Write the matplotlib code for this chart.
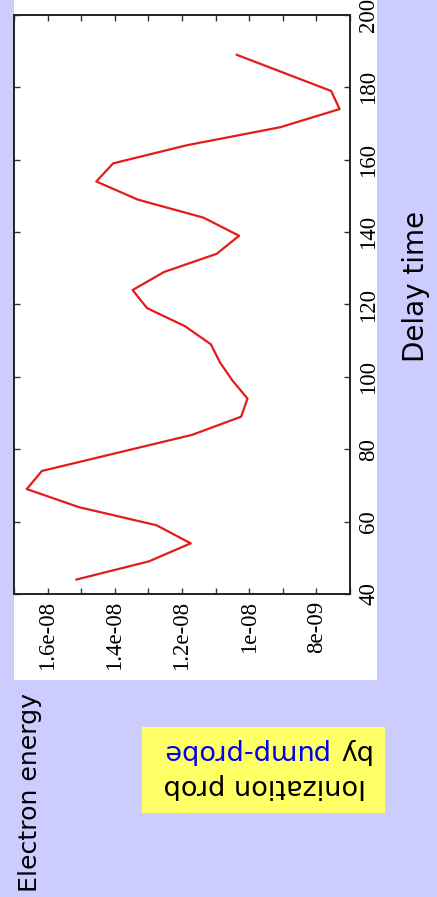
import numpy as np
import matplotlib
matplotlib.use('Agg')
import matplotlib.pyplot as plt
from matplotlib.patches import Rectangle

# Delay time and ionization probability
delay = [44, 49, 54, 59, 64, 69, 74, 84, 89, 94, 99, 104, 109, 114, 119,
         124, 129, 134, 139, 144, 149, 154, 159, 164, 169, 174, 179, 189]
prob = [1.514e-08, 1.299e-08, 1.174e-08, 1.276e-08, 1.507e-08, 1.662e-08,
        1.617e-08, 1.169e-08, 1.024e-08, 1.005e-08, 1.050e-08, 1.087e-08,
        1.114e-08, 1.191e-08, 1.304e-08, 1.347e-08, 1.253e-08, 1.097e-08,
        1.030e-08, 1.136e-08, 1.332e-08, 1.455e-08, 1.405e-08, 1.186e-08,
        0.907e-08, 0.731e-08, 0.756e-08, 1.037e-08]

prob_ticks = [1.6e-08, 1.4e-08, 1.2e-08, 1e-08, 8e-09]
prob_labels = ['1.6e-08', '1.4e-08', '1.2e-08', '1e-08', '8e-09']
delay_ticks = [40, 60, 80, 100, 120, 140, 160, 180, 200]

W, H = 437, 897
bg = '#ccccff'

fig = plt.figure(figsize=(W / 100, H / 100), dpi=100, facecolor=bg)

# white slide area behind the plot
fig.add_artist(Rectangle((14 / W, 1 - 680 / H), (377 - 14) / W, 680 / H,
                         transform=fig.transFigure, facecolor='white',
                         edgecolor='none', zorder=0))

ax = fig.add_axes([14 / W, 1 - 594 / H, (350 - 14) / W, (594 - 15) / H])
ax.plot(prob, delay, color='#e31b1b', lw=1.6)

ax.set_xlim(1.7e-08, 7e-09)
ax.set_ylim(40, 200)
ax.set_xticks(prob_ticks)
ax.set_xticks(np.arange(7e-09, 1.75e-08, 2e-09), minor=True)
ax.set_yticks(delay_ticks)
ax.yaxis.tick_right()
ax.tick_params(which='both', direction='in', length=4, width=1,
               color='#333333', top=True, bottom=True, left=True, right=True)
ax.tick_params(axis='x', which='major', pad=5)
ax.tick_params(axis='y', pad=6)

tick_font = dict(family='Liberation Serif', size=16.5, rotation=90)
ax.set_xticklabels(prob_labels, fontdict=tick_font)
ax.set_yticklabels([str(d) for d in delay_ticks], fontdict=tick_font,
                   va='center')

for s in ax.spines.values():
    s.set_linewidth(1.4)
    s.set_color('#222222')

# axis titles, turned like on the slide
fig.text(416 / W, 1 - 286 / H, 'Delay time', rotation=90, fontsize=20,
         ha='center', va='center', color='black')
fig.text(30 / W, 1 - 792 / H, 'Electron energy', rotation=90, fontsize=18.2,
         ha='center', va='center', color='black')

# yellow label box, upside down
fig.add_artist(Rectangle((142 / W, 1 - 813 / H), (385 - 142) / W, 86 / H,
                         transform=fig.transFigure, facecolor='#ffff66',
                         edgecolor='none', zorder=1))
fig.text(265 / W, 1 - 786 / H, 'Ionization prob', rotation=180, fontsize=19.5,
         ha='center', va='center', color='black', zorder=2)
fig.text(370 / W, 1 - 751 / H, 'by', rotation=180, fontsize=19.5,
         ha='right', va='center', color='black', zorder=2)
fig.text(160 / W, 1 - 751 / H, 'pump-probe', rotation=180, fontsize=19.5,
         ha='left', va='center', color='#0000ee', zorder=2)

fig.savefig('out.png', dpi=100, facecolor=bg)
